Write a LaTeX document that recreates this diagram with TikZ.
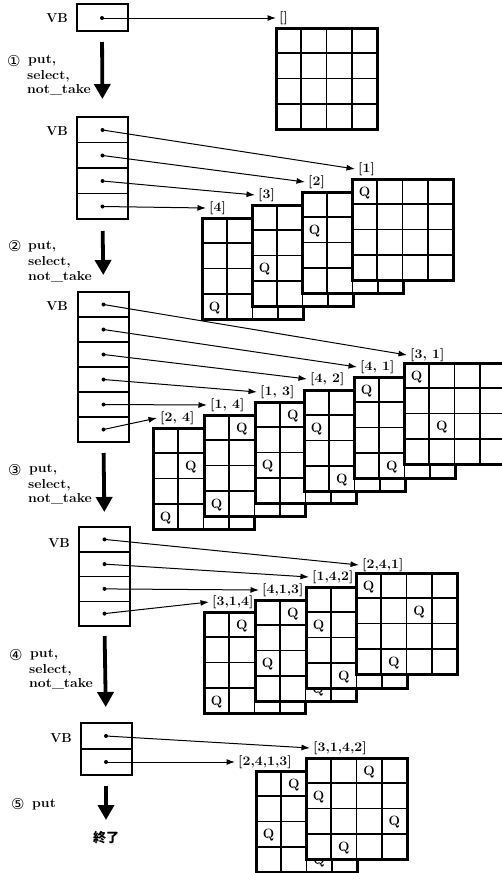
\documentclass[tikz,border=0pt]{standalone}
\usepackage{fontspec}
\newfontfamily\jpfont{Noto Sans CJK JP}
\newfontfamily\dvsfont{DejaVu Sans}
\usetikzlibrary{arrows.meta}
\newcommand\tf{\fontsize{13}{15}\selectfont\bfseries}
\newcommand\wtxt[1]{\scalebox{1.08}[1]{#1}}
\tikzset{
  txt/.style={font=\tf, inner sep=0pt},
  num/.style={font=\dvsfont\fontsize{15}{17}\selectfont, inner sep=0pt},
  lbl/.style={font=\tf, inner xsep=3pt, inner ysep=1pt, anchor=west},
  vbbox/.style={draw, line width=2pt, inner sep=0pt, minimum width=51pt},
  divider/.style={line width=1.5pt},
  dotmark/.style={circle, fill, inner sep=0pt, minimum size=4pt},
  ptr/.style={line width=1pt, -{Latex[length=8.5pt,width=6pt]}},
  bigarrow/.style={line width=3.8pt, -{Triangle[length=15pt,width=16pt]}},
  gridbg/.style={fill=white, minimum size=101pt, inner sep=0pt},
  gridline/.style={line width=1.6pt},
  gridborder/.style={line width=3pt},
  queen/.style={font=\fontsize{13.5}{15}\selectfont\bfseries, inner sep=0pt, anchor=base},
}
\newcommand\gridframe[3]{%
  \begin{scope}[shift={(#2,#3)}]
    \node[gridbg] (#1) at (50.5,50.5) {};
    \foreach \k in {1,2,3}{
      \draw[gridline] (\k*25.25,0) -- (\k*25.25,101);
      \draw[gridline] (0,\k*25.25) -- (101,\k*25.25);}
    \draw[gridborder] (0,0) rectangle (101,101);
  \end{scope}}
\newcommand\queens[4]{%
  \begin{scope}[shift={(#2,#3)}]
    \foreach \c/\r [count=\n] in {#4}{
      \node[queen] (#1-q\n) at (\c*25.25-12.6,\r*25.25-7.8) {Q};}
  \end{scope}}
\newcommand\qgrid[4]{\gridframe{#1}{#2}{#3}\queens{#1}{#2}{#3}{#4}}
\begin{document}
\begin{tikzpicture}[x=1pt,y=-1pt]
\path[use as bounding box, fill=white] (0,0) rectangle (502,873);

% ---------------- Section 1
\node[vbbox, minimum height=27pt] (vb1) at (102,17.5) {};
\node[txt, anchor=east] (vbl1) at (68,18) {VB};
\node[lbl] (l11) at (276,18) {\wtxt{[]}};
\gridframe{g11}{276}{28}
\node[dotmark] (d11) at (102,18) {};
\draw[ptr] (d11.center) -- (l11.west);

\node[num, anchor=base west] (n1) at (7,66) {①};
\node[txt, anchor=base west] (s1a) at (28,63.5) {\wtxt{put,}};
\node[txt, anchor=base west] (s1b) at (27,79) {\wtxt{select,}};
\node[txt, anchor=base west] (s1c) at (27,93.5) {\wtxt{not\_take}};

% ---------------- Section 2
\node[vbbox, minimum height=102pt] (vb2) at (102.5,168) {};
\foreach \yy in {142.5,168,193.5} {\draw[divider] (77,\yy) -- (128,\yy);}
\node[txt, anchor=east] (vbl2) at (68,131) {VB};
\node[lbl] (l21) at (355,169) {\wtxt{[1]}};
\node[lbl] (l22) at (305,182) {\wtxt{[2]}};
\node[lbl] (l23) at (255,195) {\wtxt{[3]}};
\node[lbl] (l24) at (206,208) {\wtxt{[4]}};
\qgrid{g24}{202}{218}{1/4}
\qgrid{g23}{252}{205}{1/3}
\qgrid{g22}{302}{192}{1/2}
\qgrid{g21}{352}{179}{1/1}
\node[dotmark] (d21) at (102.5,130) {};
\node[dotmark] (d22) at (102.5,155.5) {};
\node[dotmark] (d23) at (102.5,181) {};
\node[dotmark] (d24) at (102.5,206.5) {};
\draw[ptr] (d21.center) -- (l21.west);
\draw[ptr] (d22.center) -- (l22.west);
\draw[ptr] (d23.center) -- (l23.west);
\draw[ptr] (d24.center) -- (l24.west);

\node[num, anchor=base west] (n2) at (8,251) {②};
\node[txt, anchor=base west] (s2a) at (28,249) {\wtxt{put,}};
\node[txt, anchor=base west] (s2b) at (28,265) {\wtxt{select,}};
\node[txt, anchor=base west] (s2c) at (28,280) {\wtxt{not\_take}};

% ---------------- Section 3
\node[vbbox, minimum height=150pt] (vb3) at (103.5,367) {};
\foreach \yy in {317,342,367,392,417} {\draw[divider] (78,\yy) -- (129,\yy);}
\node[txt, anchor=east] (vbl3) at (68,306) {VB};
\node[lbl] (l31) at (407,355) {\wtxt{[3, 1]}};
\node[lbl] (l32) at (357,367) {\wtxt{[4, 1]}};
\node[lbl] (l33) at (307,379) {\wtxt{[4, 2]}};
\node[lbl] (l34) at (257,392) {\wtxt{[1, 3]}};
\node[lbl] (l35) at (207,405) {\wtxt{[1, 4]}};
\node[lbl] (l36) at (157,418) {\wtxt{[2, 4]}};
\qgrid{g36}{153}{428}{1/4,2/2}
\qgrid{g35}{204}{415}{1/4,2/1}
\qgrid{g34}{255}{402}{1/3,2/1}
\qgrid{g33}{304}{390}{1/2,2/4}
\qgrid{g32}{354}{377}{1/1,2/4}
\qgrid{g31}{404}{363}{1/1,2/3}
\node[dotmark] (d31) at (103.5,304.5) {};
\node[dotmark] (d32) at (103.5,329.5) {};
\node[dotmark] (d33) at (103.5,354.5) {};
\node[dotmark] (d34) at (103.5,379.5) {};
\node[dotmark] (d35) at (103.5,404.5) {};
\node[dotmark] (d36) at (103.5,429.5) {};
\draw[ptr] (d31.center) -- (l31.west);
\draw[ptr] (d32.center) -- (l32.west);
\draw[ptr] (d33.center) -- (l33.west);
\draw[ptr] (d34.center) -- (l34.west);
\draw[ptr] (d35.center) -- (l35.west);
\draw[ptr] (d36.center) -- (l36.west);

\node[num, anchor=base west] (n3) at (8,475) {③};
\node[txt, anchor=base west] (s3a) at (29,472.5) {\wtxt{put,}};
\node[txt, anchor=base west] (s3b) at (28,488) {\wtxt{select,}};
\node[txt, anchor=base west] (s3c) at (28,502.5) {\wtxt{not\_take}};

% ---------------- Section 4
\node[vbbox, minimum height=99pt] (vb4) at (104.5,576.5) {};
\foreach \yy in {551.75,576.5,601.25} {\draw[divider] (79,\yy) -- (130,\yy);}
\node[txt, anchor=east] (vbl4) at (70,543) {VB};
\node[lbl] (l41) at (359,565) {\wtxt{[2,4,1]}};
\node[lbl] (l42) at (309,577) {\wtxt{[1,4,2]}};
\node[lbl] (l43) at (259,590) {\wtxt{[4,1,3]}};
\node[lbl] (l44) at (209,602) {\wtxt{[3,1,4]}};
\qgrid{g44}{204}{612}{1/4,2/1,3/3}
\qgrid{g43}{255}{600}{1/3,2/1,3/4}
\qgrid{g42}{306}{587}{1/2,2/4,3/1}
\qgrid{g41}{356}{573}{1/1,2/4,3/2}
\node[dotmark] (d41) at (104.5,539.4) {};
\node[dotmark] (d42) at (104.5,564.1) {};
\node[dotmark] (d43) at (104.5,588.9) {};
\node[dotmark] (d44) at (104.5,613.6) {};
\draw[ptr] (d41.center) -- (l41.west);
\draw[ptr] (d42.center) -- (l42.west);
\draw[ptr] (d43.center) -- (l43.west);
\draw[ptr] (d44.center) -- (l44.west);

\node[num, anchor=base west] (n4) at (9,660) {④};
\node[txt, anchor=base west] (s4a) at (30,657.5) {\wtxt{put,}};
\node[txt, anchor=base west] (s4b) at (29,673) {\wtxt{select,}};
\node[txt, anchor=base west] (s4c) at (29,687.5) {\wtxt{not\_take}};

% ---------------- Section 5
\node[vbbox, minimum height=52pt] (vb5) at (106,749) {};
\draw[divider] (80,749) -- (132,749);
\node[txt, anchor=east] (vbl5) at (72,738) {VB};
\node[lbl] (l51) at (310,748) {\wtxt{[3,1,4,2]}};
\node[lbl] (l52) at (235,762) {\wtxt{[2,4,1,3]}};
\qgrid{g52}{256}{771}{1/3,2/1,3/4,4/2}
\qgrid{g51}{306}{758}{1/2,2/4,3/1,4/3}
\node[dotmark] (d51) at (106,736) {};
\node[dotmark] (d52) at (106,762) {};
\draw[ptr] (d51.center) -- (l51.west);
\draw[ptr] (d52.center) -- (l52.west);

\node[num, anchor=base west] (n5) at (11,809) {⑤};
\node[txt, anchor=base west] (s5a) at (32,807) {\wtxt{put}};
\node[font=\jpfont\fontsize{13}{15}\selectfont\bfseries, inner sep=0pt] (fin) at (106,838) {終了};
\coordinate (endtip) at (106,820);

% ---------------- big arrows
\draw[bigarrow, shorten <=10pt, shorten >=17pt] (vb1.south) -- (vb2.north);
\draw[bigarrow, shorten <=11pt, shorten >=16pt] (vb2.south) -- (vb3.north);
\draw[bigarrow, shorten <=10pt, shorten >=14pt] (vb3.south) -- (vb4.north);
\draw[bigarrow, shorten <=9pt, shorten >=15pt] (vb4.south) -- (vb5.north);
\draw[bigarrow, shorten <=10pt] (vb5.south) -- (endtip);
\end{tikzpicture}
\end{document}
